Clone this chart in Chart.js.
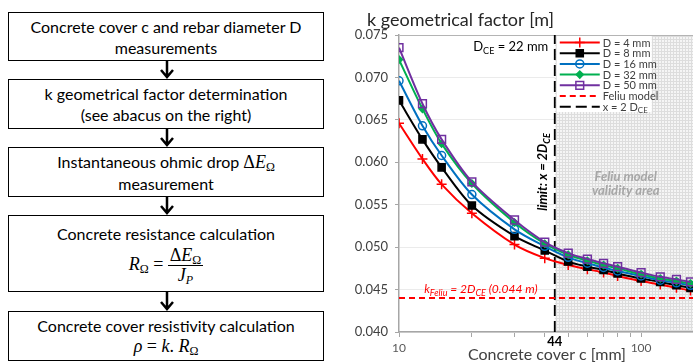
<!DOCTYPE html>
<html>
<head>
<meta charset="utf-8">
<script src="https://cdn.jsdelivr.net/npm/chart.js@4.4.1/dist/chart.umd.min.js"></script>
<style>
  html, body { margin: 0; padding: 0; width: 693px; height: 364px; overflow: hidden; background: #fff; }
  #flow { position: absolute; left: 0; top: 0; width: 340px; height: 364px; font-family: Lato, sans-serif; color: #000; }
  .box { position: absolute; left: 8px; width: 316px; border: 1.5px solid #000; box-sizing: border-box;
         display: flex; flex-direction: column; align-items: center; justify-content: center;
         text-align: center; font-size: 16px; line-height: 21px; }
  .arrow { position: absolute; left: 159px; }
  .m { font-family: "Liberation Serif", serif; font-size: 18px; }
  .m sub { font-size: 12px; vertical-align: -3px; line-height: 0; }
  .frac { display: inline-flex; flex-direction: column; align-items: center; vertical-align: middle; line-height: 19px; }
  .frac .num { border-bottom: 1px solid #000; padding: 0 2px; }
  #wrap { position: absolute; left: 340px; top: 0; width: 362px; height: 364px; }
</style>
</head>
<body>
<div id="flow">
  <div class="box" style="top:12px;height:49px">
    <div>Concrete cover c and rebar diameter D</div>
    <div>measurements</div>
  </div>
  <svg class="arrow" style="top:61px" width="16" height="18"><path d="M8 0 V16 M2 9 L8 16 L14 9" stroke="#000" stroke-width="2.5" fill="none"/></svg>
  <div class="box" style="top:79px;height:50px">
    <div>k geometrical factor determination</div>
    <div>(see abacus on the right)</div>
  </div>
  <svg class="arrow" style="top:129px" width="16" height="18"><path d="M8 0 V16 M2 9 L8 16 L14 9" stroke="#000" stroke-width="2.5" fill="none"/></svg>
  <div class="box" style="top:147px;height:50px">
    <div>Instantaneous ohmic drop <span class="m">Δ<i>E</i><sub>Ω</sub></span></div>
    <div>measurement</div>
  </div>
  <svg class="arrow" style="top:197px" width="16" height="18"><path d="M8 0 V16 M2 9 L8 16 L14 9" stroke="#000" stroke-width="2.5" fill="none"/></svg>
  <div class="box" style="top:215px;height:77px">
    <div>Concrete resistance calculation</div>
    <div class="m" style="margin-top:2px"><i>R</i><sub>Ω</sub> = <span class="frac"><span class="num">Δ<i>E</i><sub>Ω</sub></span><span><i>J</i><sub><i>P</i></sub></span></span></div>
  </div>
  <svg class="arrow" style="top:292px" width="16" height="19"><path d="M8 0 V17 M2 10 L8 17 L14 10" stroke="#000" stroke-width="2.5" fill="none"/></svg>
  <div class="box" style="top:311px;height:50px">
    <div>Concrete cover resistivity calculation</div>
    <div class="m"><i>ρ</i> = <i>k</i>. <i>R</i><sub>Ω</sub></div>
  </div>
</div>
<div id="wrap"><canvas id="myChart"></canvas></div>
<script>
// concrete cover c [mm] and k geometrical factor [m] for each rebar diameter
const coverMm = [10, 12.5, 15, 20, 30, 40, 50, 60, 70, 80, 100, 120, 140, 160];
const kD4  = [0.0646, 0.0604, 0.0574, 0.0540, 0.0503, 0.0487, 0.0479, 0.0474, 0.0470, 0.0466, 0.0460, 0.0456, 0.0452, 0.0449];
const kD8  = [0.0673, 0.0627, 0.0594, 0.0549, 0.0513, 0.0496, 0.0483, 0.0477, 0.0473, 0.0469, 0.0463, 0.0459, 0.0455, 0.0452];
const kD16 = [0.0696, 0.0643, 0.0608, 0.0562, 0.0521, 0.0501, 0.0488, 0.0481, 0.0476, 0.0472, 0.0466, 0.0461, 0.0458, 0.0455];
const kD32 = [0.0721, 0.0663, 0.0622, 0.0575, 0.0529, 0.0504, 0.0491, 0.0484, 0.0479, 0.0475, 0.0468, 0.0463, 0.0460, 0.0457];
const kD50 = [0.0735, 0.0669, 0.0627, 0.0577, 0.0532, 0.0506, 0.0493, 0.0486, 0.0481, 0.0477, 0.0470, 0.0465, 0.0462, 0.0459];
const feliuK = 0.044;   // k Feliu = 2 DCE
const limitX = 44;      // x = 2 DCE
const xMin = 10, xMax = 167;
const yTicks = [0.040, 0.045, 0.050, 0.055, 0.060, 0.065, 0.070, 0.075];
const xTicks = [10, 20, 30, 40, 50, 60, 70, 80, 90, 100];
const xTickLabels = [10, 100];

const pts = arr => coverMm.map((c, i) => ({ x: c, y: arr[i] }));
const FONT = 'Lato';

function series(label, data, color, style, radius, fill, order) {
  return {
    label: label, data: pts(data), borderColor: color, backgroundColor: fill,
    pointBorderColor: color, pointBackgroundColor: fill,
    pointStyle: style, pointRadius: radius, pointBorderWidth: 1.5,
    borderWidth: 2, tension: 0.3, fill: false, order: order
  };
}

// draws text parts, [text, isSubscript]
function drawParts(ctx, parts, x, y, size, style, color, align) {
  const big = style + ' ' + size + 'px ' + FONT;
  const small = style + ' ' + Math.round(size * 0.72) + 'px ' + FONT;
  let w = 0;
  parts.forEach(p => { ctx.font = p[1] ? small : big; w += ctx.measureText(p[0]).width; });
  let cx = align === 'center' ? x - w / 2 : (align === 'right' ? x - w : x);
  ctx.fillStyle = color;
  ctx.textAlign = 'left';
  ctx.textBaseline = 'middle';
  parts.forEach(p => {
    ctx.font = p[1] ? small : big;
    ctx.fillText(p[0], cx, p[1] ? y + size * 0.3 : y);
    cx += ctx.measureText(p[0]).width;
  });
}

const validityArea = {
  id: 'validityArea',
  beforeDatasetsDraw(chart) {
    const { ctx, chartArea: a, scales: { x } } = chart;
    const x0 = x.getPixelForValue(limitX);
    const tile = document.createElement('canvas');
    tile.width = 3; tile.height = 3;
    const t = tile.getContext('2d');
    t.fillStyle = '#f5f5f5'; t.fillRect(0, 0, 3, 3);
    t.fillStyle = '#dddddd'; t.fillRect(0, 0, 3, 1); t.fillRect(0, 0, 1, 3);
    ctx.save();
    ctx.fillStyle = ctx.createPattern(tile, 'repeat');
    ctx.fillRect(x0, a.top + 1, a.right - x0, a.bottom - a.top - 2);
    ctx.font = 'italic bold 13px ' + FONT;
    ctx.fillStyle = '#a6a6a6';
    ctx.textAlign = 'center';
    ctx.textBaseline = 'middle';
    ctx.fillText('Feliu model', x0 + 71, 177);
    ctx.fillText('validity area', x0 + 71, 191);
    ctx.restore();
  }
};

const boxLegend = {
  id: 'boxLegend',
  afterDatasetsDraw(chart) {
    const ctx = chart.ctx;
    const x0 = chart.scales.x.getPixelForValue(limitX) + 2;
    ctx.save();
    ctx.fillStyle = '#fff';
    ctx.fillRect(x0, 36, 95, 76);
    chart.data.datasets.forEach((ds, i) => {
      const y = 42.5 + i * 10.7;
      ctx.strokeStyle = ds.borderColor;
      ctx.lineWidth = 2;
      ctx.setLineDash(ds.borderDash || []);
      ctx.beginPath(); ctx.moveTo(x0 + 3, y); ctx.lineTo(x0 + 43, y); ctx.stroke();
      ctx.setLineDash([]);
      if (ds.pointRadius > 0) {
        ctx.fillStyle = ds.pointBackgroundColor;
        ctx.strokeStyle = ds.pointBorderColor;
        ctx.lineWidth = ds.pointBorderWidth;
        Chart.helpers.drawPoint(ctx, { pointStyle: ds.pointStyle, radius: ds.pointRadius, borderWidth: ds.pointBorderWidth, rotation: 0 }, x0 + 23, y);
      }
      const parts = ds.label.split('_').map((s, k) => [s, k > 0]);
      drawParts(ctx, parts, x0 + 46, y + 0.5, 11, '', '#404040', 'left');
    });
    ctx.restore();
  }
};

const annotations = {
  id: 'annotations',
  afterDraw(chart) {
    const { ctx, chartArea: a, scales: { x, y } } = chart;
    const xl = x.getPixelForValue(limitX);
    ctx.save();
    drawParts(ctx, [['k geometrical factor [m]', 0]], a.left - 32, 20, 18, '', '#262626', 'left');
    drawParts(ctx, [['Concrete cover c [mm]', 0]], (a.left + a.right) / 2, 355, 16, '', '#404040', 'center');
    drawParts(ctx, [['44', 0]], xl, 342, 13, 'bold', '#000', 'center');
    drawParts(ctx, [['D', 0], ['CE', 1], [' = 22 mm', 0]], xl - 44, 47, 13, '', '#000', 'center');
    drawParts(ctx, [['k', 0], ['Feliu', 1], [' = 2D', 0], ['CE', 1], [' (0.044 m)', 0]],
      x.getPixelForValue(21.8), y.getPixelForValue(feliuK) - 9, 12, 'italic', '#ff0000', 'center');
    ctx.translate(xl - 12, 172);
    ctx.rotate(-Math.PI / 2);
    drawParts(ctx, [['limit: x = 2D', 0], ['CE', 1]], 0, 0, 13, 'italic bold', '#000', 'center');
    ctx.restore();
  }
};

new Chart(document.getElementById('myChart').getContext('2d'), {
  type: 'line',
  data: {
    datasets: [
      series('D = 4 mm', kD4, '#ff0000', 'cross', 5, '#ff0000', 5),
      series('D = 8 mm', kD8, '#000000', 'rect', 5, '#000000', 4),
      series('D = 16 mm', kD16, '#0070c0', 'circle', 4, 'rgba(255,255,255,0)', 3),
      series('D = 32 mm', kD32, '#00b050', 'rectRot', 3.5, '#00b050', 2),
      series('D = 50 mm', kD50, '#7030a0', 'rect', 5.5, 'rgba(255,255,255,0)', 1),
      {
        label: 'Feliu model', data: [{ x: xMin, y: feliuK }, { x: xMax, y: feliuK }],
        borderColor: '#ff0000', borderWidth: 2, borderDash: [6, 4], pointRadius: 0, order: 6
      },
      {
        label: 'x = 2 D_CE', data: [{ x: limitX, y: 0.040 }, { x: limitX, y: 0.075 }],
        borderColor: '#000000', borderWidth: 1.8, borderDash: [11, 5], pointRadius: 0, order: 7
      }
    ]
  },
  options: {
    responsive: true,
    maintainAspectRatio: false,
    devicePixelRatio: 1,
    animation: false,
    layout: { padding: { top: 35, right: 3, bottom: 0, left: 0 } },
    plugins: { legend: { display: false }, title: { display: false }, tooltip: { enabled: false } },
    scales: {
      x: {
        type: 'logarithmic', min: xMin, max: xMax,
        afterBuildTicks: s => { s.ticks = xTicks.map(v => ({ value: v })); },
        afterFit: s => { s.height = 32; },
        ticks: {
          autoSkip: false, maxRotation: 0, padding: 4, color: '#595959',
          font: { family: FONT, size: 12 },
          callback: v => xTickLabels.includes(v) ? String(v) : ''
        },
        grid: { drawOnChartArea: false, tickLength: 5, tickColor: '#a6a6a6' },
        border: { color: '#a6a6a6', width: 1.5 }
      },
      y: {
        type: 'linear', min: 0.040, max: 0.075,
        afterBuildTicks: s => { s.ticks = yTicks.map(v => ({ value: v })); },
        afterFit: s => { s.width = 59; },
        ticks: {
          padding: 7, color: '#404040', font: { family: FONT, size: 13 },
          callback: v => v.toFixed(3)
        },
        grid: {
          tickLength: 4, tickColor: '#a6a6a6',
          color: c => (c.tick && Math.abs(c.tick.value - 0.075) < 1e-6) ? '#b4b4b4' : '#ebebeb'
        },
        border: { color: '#a6a6a6', width: 1.5 }
      }
    }
  },
  plugins: [validityArea, boxLegend, annotations]
});
</script>
</body>
</html>
